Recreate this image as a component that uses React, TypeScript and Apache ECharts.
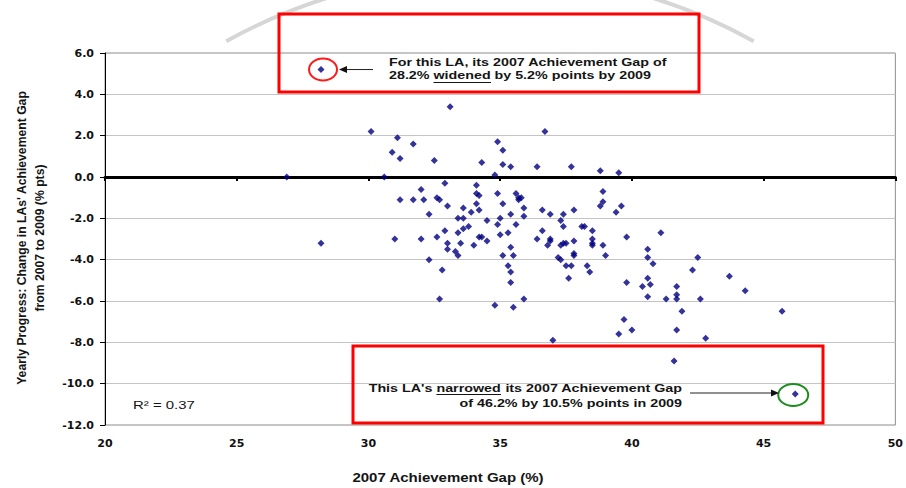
import React, { useEffect, useRef } from "react";
import * as echarts from "echarts";

// 2007 Achievement Gap (%) for each LA
const ach2007 = [
  28.2, 26.9, 28.2, 30.1, 31.1, 31.7, 30.9, 31.2, 32.5, 33.1,
  30.6, 32.9, 32.0, 31.2, 31.7, 32.1, 32.6, 32.7, 33.0, 32.3,
  33.6, 33.9, 33.4, 33.6, 33.8, 33.6, 33.4, 32.9, 32.6, 32.0,
  31.0, 33.0, 33.5, 34.0, 34.2, 34.3, 34.5, 33.0, 33.3, 33.4,
  32.3, 32.8, 32.7, 34.3, 34.1, 34.1, 34.2, 34.1, 34.2, 34.5,
  35.1, 35.4, 36.4, 37.7, 34.8, 34.9, 35.6, 35.7, 35.8, 35.7,
  35.1, 35.9, 36.6, 36.9, 37.4, 37.8, 35.4, 35.9, 35.0, 34.9,
  35.6, 37.3, 37.4, 36.6, 35.0, 35.3, 36.4, 36.9, 36.9, 36.8,
  37.3, 37.4, 37.5, 37.8, 35.4, 35.1, 35.5, 37.8, 37.8, 37.2,
  37.3, 35.3, 35.4, 37.5, 37.7, 35.4, 37.6, 35.9, 34.8, 35.5,
  36.7, 34.9, 35.1, 38.8, 39.5, 38.9, 38.9, 38.8, 39.6, 39.4,
  38.5, 38.2, 38.1, 38.5, 38.5, 38.5, 38.9, 39.0, 38.3, 38.4,
  39.8, 39.8, 41.1, 40.6, 40.6, 40.8, 40.6, 40.7, 40.4, 40.6,
  41.3, 39.7, 40.0, 39.5, 37.0, 41.7, 41.7, 41.7, 41.7, 42.5,
  42.3, 42.6, 41.9, 43.7, 44.3, 45.7, 42.8, 41.6, 46.2,
];

// Change in achievement gap 2007 -> 2009 (% pts)
const gapChange = [
  5.2, 0.0, -3.2, 2.2, 1.9, 1.6, 1.2, 0.9, 0.8, 3.4,
  0.0, -0.3, -0.6, -1.1, -1.1, -1.1, -1.0, -1.1, -1.4, -1.8,
  -1.5, -1.7, -2.0, -2.0, -2.4, -2.5, -2.7, -2.6, -2.9, -3.0,
  -3.0, -3.2, -3.2, -3.3, -2.9, -2.9, -3.1, -3.5, -3.6, -3.8,
  -4.0, -4.5, -5.9, 0.7, -0.4, -0.8, -0.9, -1.3, -1.6, -2.1,
  0.6, 0.5, 0.5, 0.5, 0.1, -0.8, -0.8, -1.0, -1.0, -1.1,
  -1.3, -1.5, -1.6, -1.8, -1.8, -1.6, -1.8, -1.9, -2.0, -2.3,
  -2.3, -2.1, -2.4, -2.6, -2.8, -2.7, -3.0, -3.0, -3.1, -3.3,
  -3.3, -3.2, -3.2, -3.1, -3.4, -3.8, -3.8, -3.7, -3.8, -3.9,
  -4.0, -4.3, -4.6, -4.3, -4.3, -5.1, -4.9, -5.9, -6.2, -6.3,
  2.2, 1.7, 1.3, 0.3, 0.2, -0.7, -1.2, -1.4, -1.4, -1.7,
  -2.6, -2.4, -2.4, -3.0, -3.2, -3.3, -3.3, -3.8, -4.3, -4.6,
  -2.9, -5.1, -2.7, -3.5, -3.9, -4.2, -4.9, -5.2, -5.3, -5.8,
  -5.9, -6.9, -7.4, -7.6, -7.9, -5.3, -5.7, -5.9, -7.4, -3.9,
  -4.5, -5.9, -6.5, -4.8, -5.5, -6.5, -7.8, -8.9, -10.5,
];

const widenedLA = [28.2, 5.2];
const narrowedLA = [46.2, -10.5];

const xMin = 20;
const xMax = 50;
const xStep = 5;
const yMin = -12;
const yMax = 6;
const yStep = 2;

const rSquared = "R² = 0.37";
const xTitle = "2007 Achievement Gap (%)";
const yTitle1 = "Yearly Progress: Change in LAs' Achievement Gap";
const yTitle2 = "from 2007 to 2009 (% pts)";

const FONT = '"Liberation Sans", Arial, sans-serif';
const SX = 1.3;

function txt(x: number, y: number, text: string, opts: any = {}) {
  return {
    type: "text",
    x,
    y,
    scaleX: opts.scaleX ?? SX,
    rotation: opts.rotation ?? 0,
    silent: true,
    z: 100,
    style: {
      text,
      fill: opts.fill ?? "#141414",
      font: `${opts.weight ?? "bold"} ${opts.size ?? 11}px ${FONT}`,
      textAlign: opts.align ?? "left",
      textVerticalAlign: "middle",
      verticalAlign: "middle",
    },
  };
}

export default function App() {
  const ref = useRef<HTMLDivElement>(null);

  useEffect(() => {
    if (!ref.current) return;
    const chart = echarts.init(ref.current, null, { renderer: "svg" });
    const points = ach2007.map((x, i) => [x, gapChange[i]]);

    chart.setOption({
      animation: false,
      backgroundColor: "#ffffff",
      grid: {
        left: 105,
        right: 9,
        top: 53,
        bottom: 63,
        show: true,
        borderColor: "#8c8c8c",
        borderWidth: 1,
        backgroundColor: "transparent",
      },
      xAxis: [
        {
          type: "value",
          min: xMin,
          max: xMax,
          interval: xStep,
          axisLine: { show: true, onZero: true, lineStyle: { color: "#000", width: 3 } },
          axisTick: { show: true, inside: false, length: 4, lineStyle: { color: "#000", width: 2 } },
          axisLabel: { show: false },
          splitLine: { show: false },
          z: 5,
        },
        {
          type: "value",
          position: "bottom",
          min: xMin,
          max: xMax,
          interval: xStep,
          axisLine: { show: false, onZero: false },
          axisTick: { show: false },
          axisLabel: {
            show: true,
            margin: 13,
            color: "#111",
            fontFamily: '"DejaVu Sans", sans-serif',
            fontWeight: "bold",
            fontSize: 11,
          },
          splitLine: { show: false },
        },
      ],
      yAxis: {
        type: "value",
        min: yMin,
        max: yMax,
        interval: yStep,
        axisLine: { show: true, onZero: false, lineStyle: { color: "#000", width: 1 } },
        axisTick: { show: true, inside: false, length: 5, lineStyle: { color: "#000" } },
        axisLabel: {
          margin: 11,
          color: "#111",
          fontFamily: '"DejaVu Sans", sans-serif',
          fontWeight: "bold",
          fontSize: 11,
          formatter: (v: number) => v.toFixed(1),
        },
        splitLine: { show: true, lineStyle: { color: "#c4c4c4", width: 1 } },
      },
      series: [
        {
          type: "scatter",
          xAxisIndex: 0,
          yAxisIndex: 0,
          symbol: "diamond",
          symbolSize: 7,
          itemStyle: { color: "#000080" },
          data: points,
          z: 10,
        },
      ],
    });

    const p1 = chart.convertToPixel({ seriesIndex: 0 }, widenedLA) as number[];
    const p2 = chart.convertToPixel({ seriesIndex: 0 }, narrowedLA) as number[];

    const graphic: any[] = [
      // faint watermark arc
      {
        type: "arc",
        silent: true,
        z: -1,
        shape: { cx: 490, cy: 517, r: 544, startAngle: (-119 * Math.PI) / 180, endAngle: (-61 * Math.PI) / 180 },
        style: { stroke: "#d6d6d6", lineWidth: 4, fill: "none" },
      },
      // red boxes
      {
        type: "rect",
        silent: true,
        z: 90,
        shape: { x: 279, y: 14, width: 420, height: 78 },
        style: { stroke: "#ff0000", lineWidth: 3, fill: "none" },
      },
      {
        type: "rect",
        silent: true,
        z: 90,
        shape: { x: 353, y: 346, width: 470, height: 77 },
        style: { stroke: "#ff0000", lineWidth: 3, fill: "none" },
      },
      // highlight ellipses
      {
        type: "ellipse",
        silent: true,
        z: 95,
        shape: { cx: p1[0] + 2, cy: p1[1], rx: 14, ry: 11 },
        style: { stroke: "#ff1a1a", lineWidth: 2, fill: "none" },
      },
      {
        type: "ellipse",
        silent: true,
        z: 95,
        shape: { cx: p2[0] - 2, cy: p2[1] + 1, rx: 15, ry: 11 },
        style: { stroke: "#1e8c1e", lineWidth: 2, fill: "none" },
      },
      // arrows
      {
        type: "line",
        silent: true,
        z: 95,
        shape: { x1: 373, y1: p1[1], x2: 346, y2: p1[1] },
        style: { stroke: "#222", lineWidth: 1 },
      },
      {
        type: "polygon",
        silent: true,
        z: 95,
        shape: { points: [[339, p1[1]], [347, p1[1] - 3.5], [347, p1[1] + 3.5]] },
        style: { fill: "#111" },
      },
      {
        type: "line",
        silent: true,
        z: 95,
        shape: { x1: 690, y1: 393, x2: 772, y2: 393 },
        style: { stroke: "#222", lineWidth: 1 },
      },
      {
        type: "polygon",
        silent: true,
        z: 95,
        shape: { points: [[779, 393], [771, 389.5], [771, 396.5]] },
        style: { fill: "#111" },
      },
      // top annotation text
      txt(389, 62.5, "For this LA, its 2007 Achievement Gap of"),
      txt(389, 75.5, "28.2%"),
      txt(433.5, 75.5, "widened"),
      txt(494.5, 75.5, "by 5.2% points by 2009"),
      {
        type: "line",
        silent: true,
        z: 100,
        shape: { x1: 433.5, y1: 82.5, x2: 491, y2: 82.5 },
        style: { stroke: "#141414", lineWidth: 1.2 },
      },
      // bottom annotation text
      txt(432.4, 388.5, "This LA's", { align: "right" }),
      txt(436.4, 388.5, "narrowed"),
      txt(682, 388.5, "its 2007 Achievement Gap", { align: "right" }),
      txt(682, 403.5, "of 46.2% by 10.5% points in 2009", { align: "right" }),
      {
        type: "line",
        silent: true,
        z: 100,
        shape: { x1: 436.4, y1: 394.5, x2: 501, y2: 394.5 },
        style: { stroke: "#141414", lineWidth: 1.2 },
      },
      // R squared
      txt(133, 405, rSquared, { weight: "normal", size: 11.5 }),
      // axis titles
      txt(448, 478, xTitle, { size: 12, align: "center", scaleX: 1.25 }),
      txt(22, 238, yTitle1, { size: 12.2, align: "center", scaleX: 1, rotation: Math.PI / 2 }),
      txt(40, 238, yTitle2, { size: 12.2, align: "center", scaleX: 1, rotation: Math.PI / 2 }),
    ];

    chart.setOption({ graphic });

    return () => {
      chart.dispose();
    };
  }, []);

  return (
    <div
      ref={ref}
      style={{ position: "fixed", left: 0, top: 0, width: 906, height: 488, background: "#fff" }}
    />
  );
}
